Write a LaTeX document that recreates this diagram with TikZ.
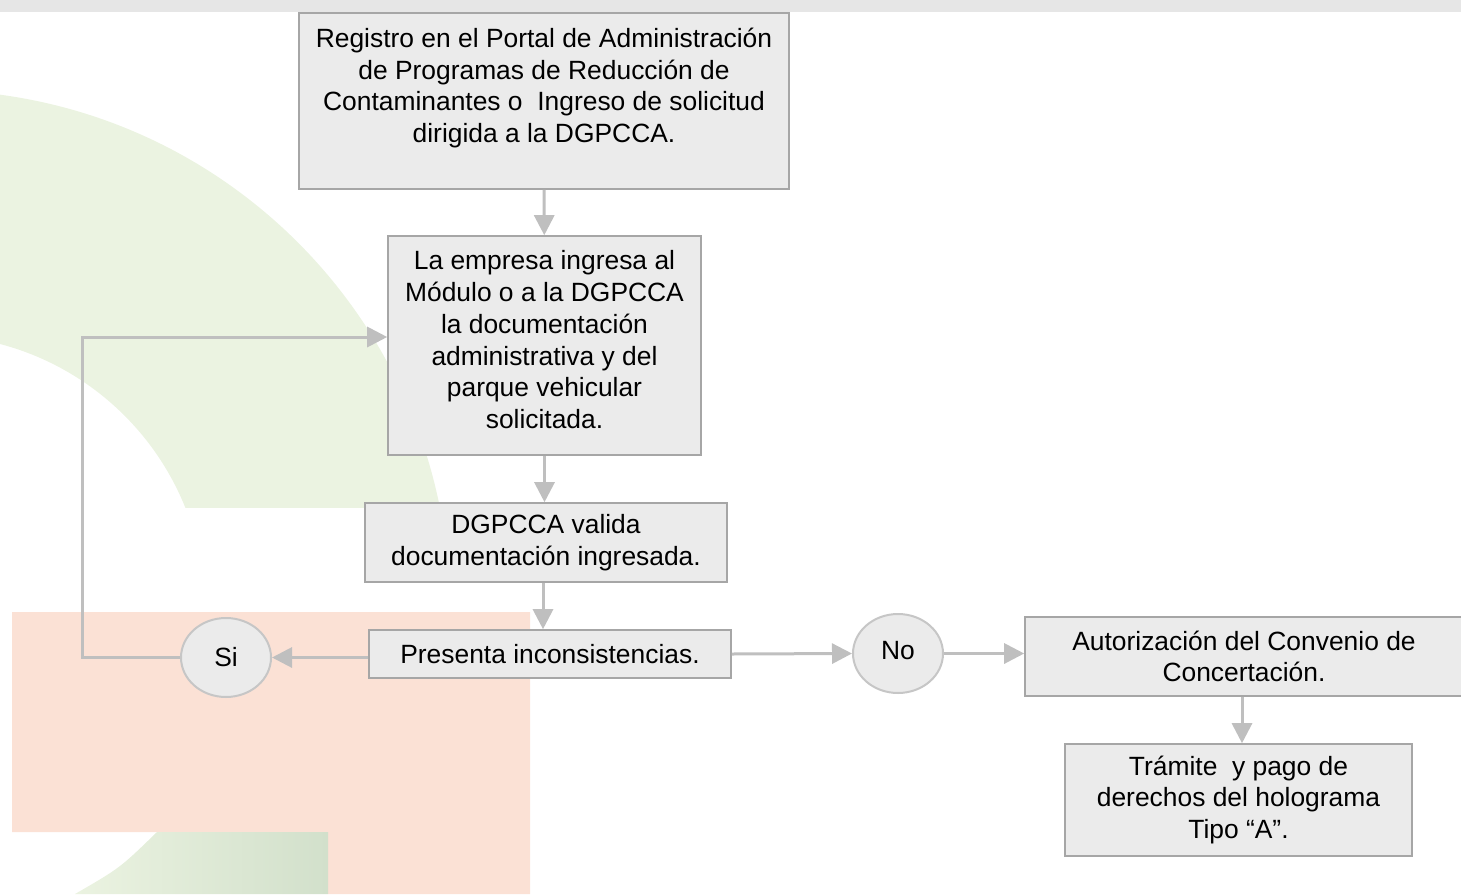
\documentclass[tikz,border=0pt]{standalone}
\usepackage{fontspec}
\setmainfont{Liberation Sans}
\usetikzlibrary{arrows.meta, shapes.geometric}
\definecolor{boxfill}{HTML}{EBEBEB}
\definecolor{boxline}{HTML}{A6A6A6}
\definecolor{ringline}{HTML}{C6C6C6}
\definecolor{arrowgray}{HTML}{BFBFBF}
\definecolor{bandgray}{HTML}{E6E6E6}
\definecolor{leafgreen}{HTML}{EBF3E1}
\definecolor{leafdark}{HTML}{D2E0CB}
\definecolor{peach}{HTML}{FBE1D5}

\begin{document}
\begin{tikzpicture}[x=1pt, y=-1pt,
        box/.style={rectangle, draw=boxline, line width=1.6pt, fill=boxfill, align=center, inner sep=0pt, font=\fontsize{26.4}{31.7}\selectfont},
        answer/.style={ellipse, draw=ringline, line width=2pt, fill=boxfill, inner sep=0pt, minimum width=90pt, minimum height=79pt, font=\fontsize{26.4}{31.7}\selectfont},
        flow/.style={draw=arrowgray, line width=3pt, -{Triangle[length=20pt, width=20pt]}}]
        \useasboundingbox (0,0) rectangle (1461,894);
        \fill[bandgray] (0,0) rectangle (1461,12);
        \begin{scope}
            \clip (0,12) rectangle (1461,507);
            \fill[leafgreen, even odd rule] (-70,610) circle[radius=520pt] (-70,610) circle[radius=275pt];
        \end{scope}
        \fill[peach] (12,612) -- (530,612) -- (530,894) -- (328,894) -- (328,832) -- (12,832) -- cycle;
        \shade[left color=leafgreen, right color=leafdark] (157,832) .. controls (120,868) .. (75,894) -- (328,894) -- (328,832) -- cycle;

        \node[box, minimum width=490pt, minimum height=176pt] (reg) at (544,101) {Registro en el Portal de Administración\\de Programas de Reducción de\\Contaminantes o\ \ Ingreso de solicitud\\dirigida a la DGPCCA.\\\mbox{}};
        \node[box, minimum width=313pt, minimum height=219pt] (emp) at (544.5,345.5) {La empresa ingresa al\\Módulo o a la DGPCCA\\la documentación\\administrativa y del\\parque vehicular\\solicitada.\\[-20pt]\mbox{}};
        \node[box, minimum width=362pt, minimum height=79pt] (val) at (546,542.5) {DGPCCA valida\\documentación ingresada.};
        \node[box, minimum width=362pt, minimum height=48pt] (inc) at (550,654) {Presenta inconsistencias.};
        \node[answer] (si) at (226,657.5) {Si};
        \node[answer] (no) at (898,653.5) {\raisebox{6pt}{No}};
        \node[box, minimum width=438pt, minimum height=79pt] (aut) at (1244,656.5) {Autorización del Convenio de\\Concertación.};
        \node[box, minimum width=347pt, minimum height=112pt] (tra) at (1238.5,800) {Trámite\ \ y pago de\\derechos del holograma\\Tipo “A”.};
        \coordinate (back) at (82,337);

        \draw[flow] (reg) -- (emp);
        \draw[flow] (emp.south) -- (emp.south |- val.north);
        \draw[flow] (val.south -| 543,0) -- (inc.north -| 543,0);
        \draw[flow] (inc.west |- si) -- (si.east);
        \draw[flow] (si.west) -| (back) -- (emp.west |- back);
        \draw[flow] (inc.east) -- (no.west);
        \draw[flow] (no.east) -- (no.east -| aut.west);
        \draw[flow] (aut.south -| 1242,0) -- (tra.north -| 1242,0);
    \end{tikzpicture}
\end{document}
